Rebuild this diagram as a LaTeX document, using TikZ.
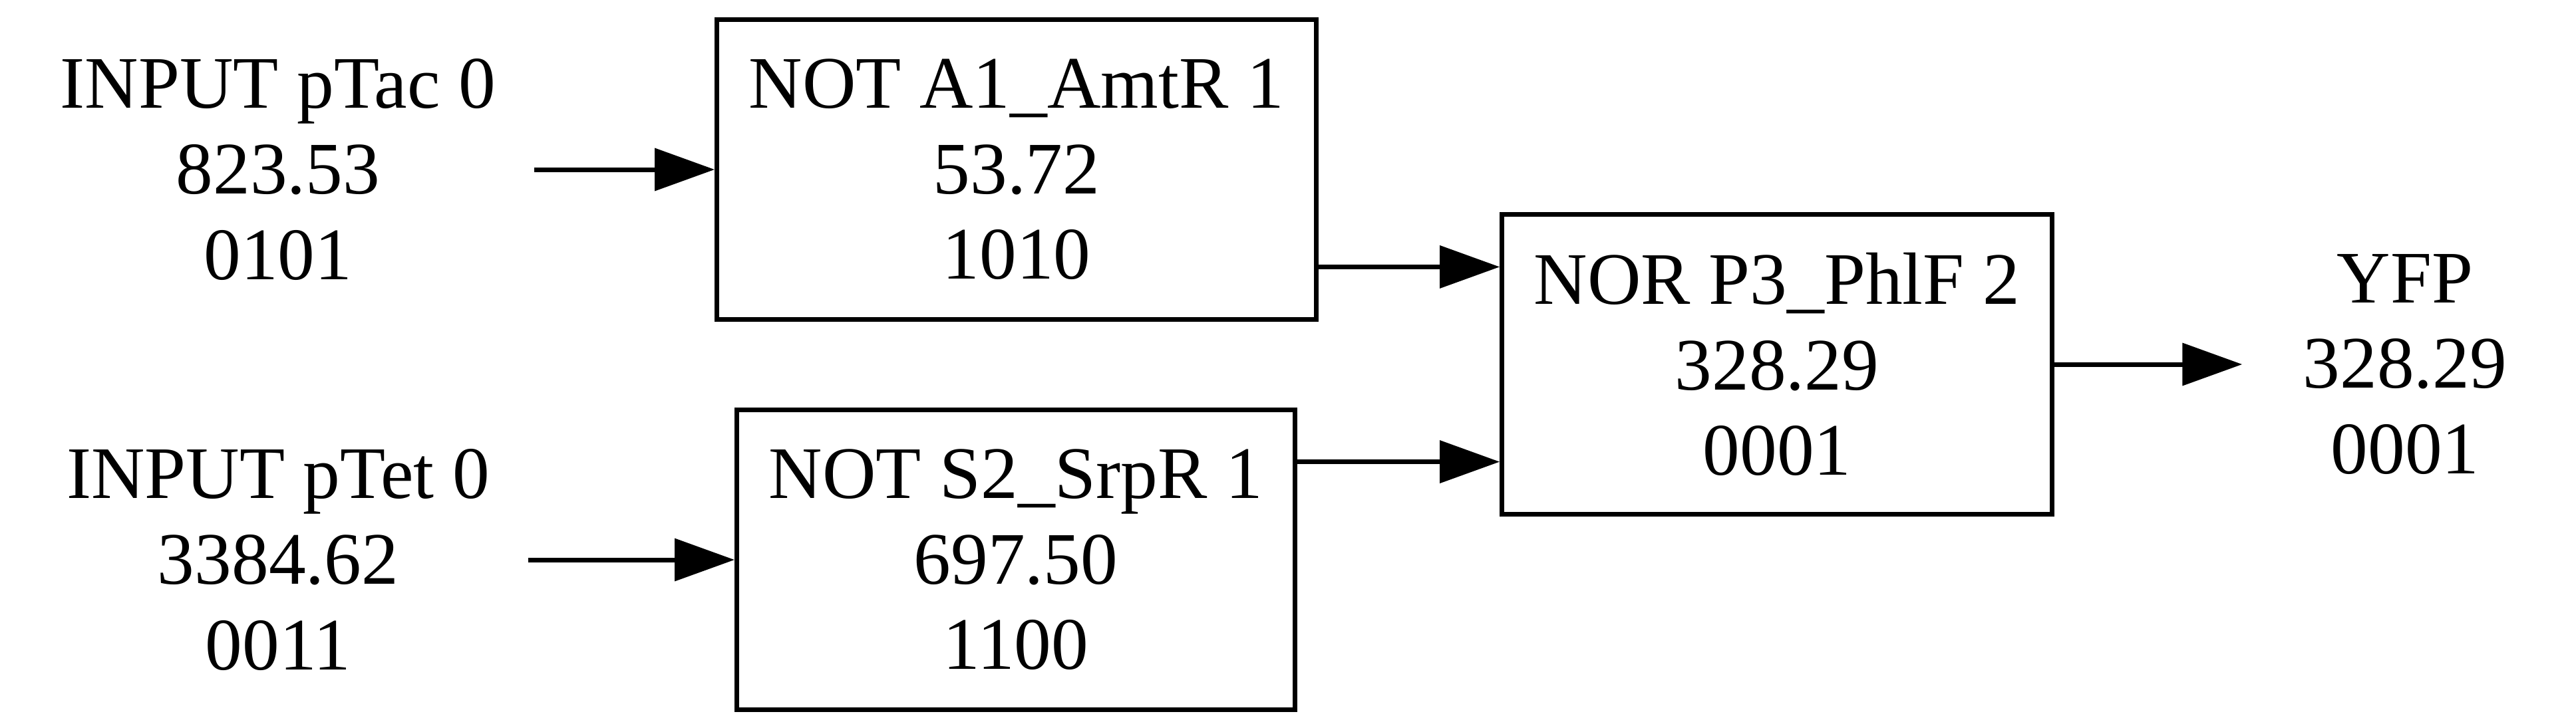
\documentclass[tikz,border=0pt]{standalone}
\usepackage{fontspec}
\setmainfont{Liberation Serif}
\usetikzlibrary{arrows.meta, positioning, calc}

\begin{document}
\begin{tikzpicture}[
    gate/.style={rectangle, draw, line width=0.07cm, inner xsep=0.48cm, minimum height=4.51cm, align=center},
    port/.style={align=center, inner sep=0pt},
    arrow/.style={-{Triangle[length=0.9cm, width=0.63cm]}, line width=0.07cm},
    font=\fontsize{31.7}{36.6}\selectfont,
]
    \useasboundingbox (0,0) rectangle (38.72,-10.94);

    % Inputs
    \node[port, minimum width=7.68cm] (tac) at (4.18,-2.55) {INPUT pTac 0\\823.53\\0101};
    \node[port, minimum width=7.5cm] (tet) at (4.18,-8.42) {INPUT pTet 0\\3384.62\\0011};

    % NOT gates
    \node[gate] (a1) at (15.28,-2.55) {NOT A1\_AmtR 1\\53.72\\1010};
    \node[gate] (s2) at (15.27,-8.42) {NOT S2\_SrpR 1\\697.50\\1100};

    % NOR gate
    \node[gate] (p3) at (26.71,-5.48) {NOR P3\_PhlF 2\\328.29\\0001};
    \coordinate (p3in1) at ($(p3.north west)!0.18!(p3.south west)$);
    \coordinate (p3in2) at ($(p3.north west)!0.82!(p3.south west)$);

    % Output
    \node[port, minimum width=4.88cm] (yfp) at (36.15,-5.48) {YFP\\328.29\\0001};

    % Arrows
    \draw[arrow] (tac) -- (a1);
    \draw[arrow] (tet) -- (s2);
    \draw[arrow] (a1.east |- p3in1) -- (p3in1);
    \draw[arrow] (s2.east |- p3in2) -- (p3in2);
    \draw[arrow] (p3) -- (yfp);
\end{tikzpicture}
\end{document}
